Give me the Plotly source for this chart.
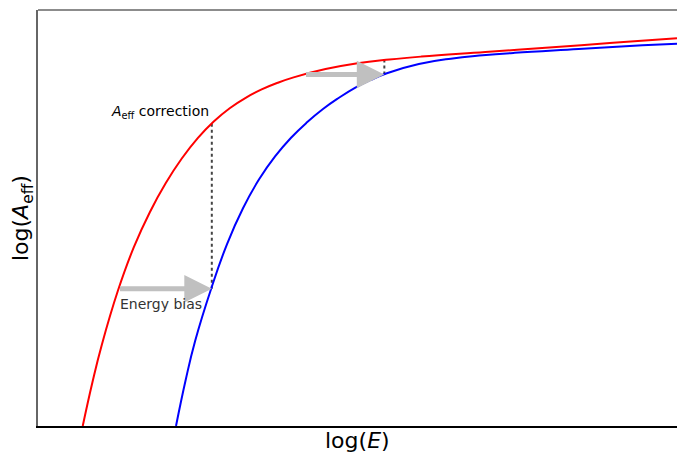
import plotly.graph_objects as go

# Effective area curves (log A_eff vs log E), arbitrary units
true_logE = [0.70, 0.85, 1.00, 1.25, 1.50, 1.75, 2.00, 2.25, 2.50, 2.75, 3.00, 3.25,
             3.50, 3.75, 4.00, 4.50, 5.00, 5.50, 6.00, 7.00, 8.00, 9.00, 10.0]
true_logA = [0.00, 1.04, 1.96, 3.25, 4.30, 5.14, 5.84, 6.43, 6.92, 7.32, 7.64, 7.89,
             8.09, 8.25, 8.38, 8.58, 8.72, 8.81, 8.88, 8.99, 9.10, 9.21, 9.32]

biased_logE = [2.16, 2.31, 2.46, 2.71, 2.96, 3.21, 3.46, 3.71, 3.96, 4.21, 4.46, 4.71,
               4.96, 5.21, 5.46, 5.96, 6.46, 6.96, 7.46, 8.46, 9.46, 10.0]
biased_logA = [0.00, 1.10, 2.05, 3.30, 4.38, 5.24, 5.93, 6.48, 6.93, 7.30, 7.62, 7.89,
               8.13, 8.32, 8.48, 8.70, 8.83, 8.91, 8.97, 9.06, 9.15, 9.19]

# Energy-bias arrows: (start logE, end logE, level logA)
bias_arrows = [(1.26, 2.72, 3.30), (4.17, 5.42, 8.45)]
# A_eff correction markers: (logE, lower logA, upper logA)
corrections = [(2.72, 3.30, 7.28), (5.42, 8.45, 8.80)]

X_RANGE = [0, 10]
Y_RANGE = [0, 10]

fig = go.Figure()
fig.add_trace(go.Scatter(x=true_logE, y=true_logA, mode="lines",
                         line=dict(color="#ff0000", width=2, shape="spline", smoothing=1.3),
                         showlegend=False, hoverinfo="skip"))
fig.add_trace(go.Scatter(x=biased_logE, y=biased_logA, mode="lines",
                         line=dict(color="#0000ff", width=2, shape="spline", smoothing=1.3),
                         showlegend=False, hoverinfo="skip"))

shapes = []
for xc, y0, y1 in corrections:
    shapes.append(dict(type="line", xref="x", yref="y", x0=xc, x1=xc, y0=y0, y1=y1,
                       line=dict(color="#444444", width=2, dash="dot"), layer="below"))
# top spine (grey)
shapes.append(dict(type="line", xref="paper", yref="paper", x0=0, x1=1, y0=1, y1=1,
                   line=dict(color="#666666", width=1.5)))

annotations = []
for xs, xe, ya in bias_arrows:
    annotations.append(dict(x=xe, y=ya, ax=xs, ay=ya, xref="x", yref="y",
                            axref="x", ayref="y", text="", showarrow=True,
                            arrowhead=2, arrowsize=1.1, arrowwidth=5,
                            arrowcolor="#c0c0c0", standoff=0, startstandoff=0))

annotations.append(dict(x=corrections[0][0], y=7.55, xref="x", yref="y",
                        text="<i>A</i><sub>eff</sub> correction", showarrow=False,
                        xanchor="right", yanchor="middle", xshift=-1,
                        font=dict(family="DejaVu Sans", size=14, color="#000000")))
annotations.append(dict(x=bias_arrows[0][0], y=bias_arrows[0][2], xref="x", yref="y",
                        text="Energy bias", showarrow=False,
                        xanchor="left", yanchor="top", yshift=-5, xshift=-1,
                        font=dict(family="DejaVu Sans", size=14, color="#333333")))

annotations.append(dict(x=0.5, y=0, xref="paper", yref="paper",
                        text="log(<i>E</i>)", showarrow=False,
                        xanchor="center", yanchor="middle", yshift=-14,
                        font=dict(family="DejaVu Sans", size=22, color="#000000")))
annotations.append(dict(x=0, y=0.5, xref="paper", yref="paper",
                        text="log(<i>A</i><sub>eff</sub>)", showarrow=False, textangle=-90,
                        xanchor="center", yanchor="middle", xshift=-16,
                        font=dict(family="DejaVu Sans", size=22, color="#000000")))

fig.update_layout(
    width=677, height=452,
    margin=dict(l=38, r=0, t=10, b=26),
    paper_bgcolor="white", plot_bgcolor="white",
    xaxis=dict(range=X_RANGE, showgrid=False, zeroline=False, showticklabels=False,
               ticks="", showline=True, linecolor="#000000", linewidth=1.5),
    yaxis=dict(range=Y_RANGE, showgrid=False, zeroline=False, showticklabels=False,
               ticks="", showline=True, linecolor="#666666", linewidth=1.5),
    shapes=shapes,
    annotations=annotations,
)

fig.write_html("out.html")
